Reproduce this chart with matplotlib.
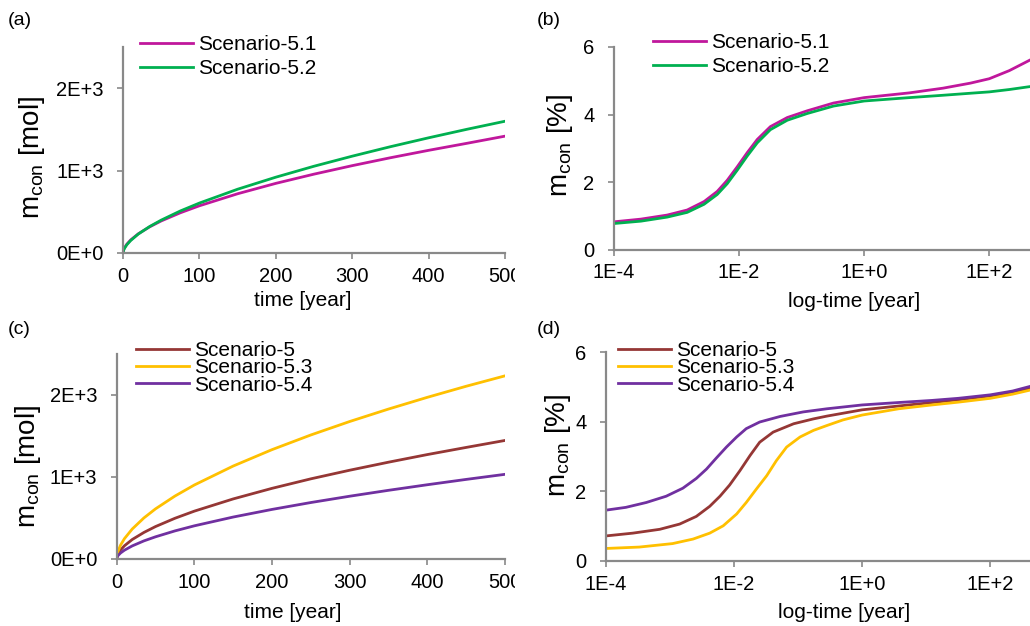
import numpy as np
import matplotlib
matplotlib.use("Agg")
import matplotlib.pyplot as plt
from matplotlib.transforms import Bbox, TransformedBbox

plt.rcParams['font.family'] = ['Liberation Sans', 'DejaVu Sans']
plt.rcParams['mathtext.fontset'] = 'custom'
plt.rcParams['mathtext.rm'] = 'Liberation Sans'
plt.rcParams['mathtext.it'] = 'Liberation Sans'

# (a) / (c): linear time, cumulative mass [mol]
t_lin = [0, 1, 2, 5, 10, 20, 35, 50, 75, 100, 150, 200, 250, 300, 350, 400, 450, 500]
a_s51 = [0, 43, 64, 107, 158, 233, 318, 389, 488, 573, 719, 845, 957, 1060, 1156, 1246, 1331, 1418]
a_s52 = [0, 38, 57, 100, 151, 230, 322, 399, 510, 606, 774, 920, 1053, 1175, 1290, 1398, 1501, 1599]
c_s5 = [0, 43, 64, 107, 158, 234, 320, 392, 493, 580, 729, 858, 974, 1079, 1177, 1270, 1357, 1442]
c_s53 = [0, 67, 98, 166, 245, 362, 497, 608, 764, 899, 1130, 1330, 1509, 1673, 1825, 1968, 2103, 2230]
c_s54 = [0, 27, 41, 70, 104, 156, 217, 267, 339, 401, 508, 601, 685, 762, 834, 902, 967, 1029]

# (b): log time (exponents of 10), percentage
b_logt = [-4.0, -3.57, -3.15, -2.83, -2.56, -2.35, -2.19, -2.03, -1.87, -1.71, -1.5,
          -1.23, -0.91, -0.49, 0.0, 0.72, 1.26, 1.7, 2.0, 2.32, 2.7]
b_s51 = [0.82, 0.90, 1.02, 1.17, 1.42, 1.72, 2.05, 2.45, 2.87, 3.26, 3.64,
         3.91, 4.11, 4.34, 4.50, 4.64, 4.78, 4.93, 5.06, 5.30, 5.66]
b_s52 = [0.77, 0.84, 0.96, 1.10, 1.34, 1.63, 1.95, 2.35, 2.77, 3.16, 3.55,
         3.83, 4.03, 4.25, 4.40, 4.50, 4.57, 4.63, 4.67, 4.74, 4.84]

# (d): log time (exponents of 10), percentage
d_logt_s5 = [-4.0, -3.58, -3.16, -2.85, -2.59, -2.38, -2.22, -2.07, -1.91, -1.75, -1.6,
             -1.39, -1.07, -0.76, -0.55, 0.0, 0.57, 1.09, 1.5, 2.0, 2.35, 2.7]
d_s5 = [0.72, 0.80, 0.91, 1.06, 1.28, 1.57, 1.86, 2.18, 2.59, 3.03, 3.41,
        3.70, 3.94, 4.08, 4.16, 4.34, 4.45, 4.55, 4.63, 4.74, 4.84, 4.98]
d_logt_s53 = [-4.0, -3.48, -2.96, -2.64, -2.38, -2.17, -1.96, -1.81, -1.65, -1.49, -1.34,
              -1.18, -0.97, -0.76, -0.55, -0.3, 0.0, 0.57, 1.09, 1.5, 2.0, 2.35, 2.7]
d_s53 = [0.36, 0.40, 0.50, 0.63, 0.80, 1.01, 1.35, 1.68, 2.07, 2.45, 2.88,
         3.27, 3.56, 3.75, 3.89, 4.05, 4.19, 4.37, 4.48, 4.56, 4.67, 4.79, 4.94]
d_logt_s54 = [-4.0, -3.69, -3.37, -3.06, -2.8, -2.59, -2.43, -2.28, -2.12, -1.96, -1.81,
              -1.6, -1.28, -0.92, -0.55, 0.0, 0.57, 1.09, 1.5, 2.0, 2.35, 2.7]
d_s54 = [1.46, 1.54, 1.68, 1.86, 2.09, 2.37, 2.64, 2.95, 3.27, 3.56, 3.80,
         3.99, 4.15, 4.28, 4.37, 4.48, 4.55, 4.61, 4.67, 4.77, 4.88, 5.05]

MAGENTA = '#C0179C'
GREEN = '#00B050'
BROWN = '#953735'
GOLD = '#FFC000'
PURPLE = '#7030A0'
AXCOL = '#898989'
LW = 2.0

W, H = 1030, 626
fig = plt.figure(figsize=(W / 100, H / 100), dpi=100)


def px_axes(left, right, top, bottom):
    return fig.add_axes([left / W, 1 - bottom / H, (right - left) / W, (bottom - top) / H])


def style(ax):
    for s in ('top', 'right'):
        ax.spines[s].set_visible(False)
    for s in ('left', 'bottom'):
        ax.spines[s].set_color(AXCOL)
        ax.spines[s].set_linewidth(1.6)
    ax.tick_params(axis='both', which='major', direction='out', length=4,
                   width=1.2, color=AXCOL, labelsize=14.5, labelcolor='black')
    ax.tick_params(axis='y', pad=10)
    ax.tick_params(axis='x', pad=6)
    ax.tick_params(which='minor', length=0)
    ax.patch.set_visible(False)


def legend(ax, x, y, spacing):
    leg = ax.legend(loc='upper left', bbox_to_anchor=(x / W, 1 - y / H),
                    bbox_transform=fig.transFigure, frameon=False, fontsize=15,
                    handlelength=2.55, handletextpad=0.25, labelspacing=spacing,
                    borderpad=0, borderaxespad=0)
    return leg


ax_a = px_axes(123, 505, 47, 253)
ax_b = px_axes(614, 1033, 47, 249.5)
ax_c = px_axes(116.7, 505, 353.7, 558.7)
ax_d = px_axes(606, 1035, 352, 561)

# (a)
ax_a.plot(t_lin, a_s51, color=MAGENTA, lw=LW, label='Scenario-5.1')
ax_a.plot(t_lin, a_s52, color=GREEN, lw=LW, label='Scenario-5.2')
# (c)
ax_c.plot(t_lin, c_s5, color=BROWN, lw=LW, label='Scenario-5')
ax_c.plot(t_lin, c_s53, color=GOLD, lw=LW, label='Scenario-5.3')
ax_c.plot(t_lin, c_s54, color=PURPLE, lw=LW, label='Scenario-5.4')

for ax in (ax_a, ax_c):
    style(ax)
    ax.set_xlim(0, 500)
    ax.set_ylim(0, 2500)
    ax.set_xticks([0, 100, 200, 300, 400, 500])
    ax.set_yticks([0, 1000, 2000], ['0E+0', '1E+3', '2E+3'])
    ax.set_ylabel(r'$\mathregular{m_{con}}$ [mol]', fontsize=20)
    ax.set_xlabel('time [year]', fontsize=15, va='top')

# (b)
ax_b.plot(np.power(10.0, b_logt), b_s51, color=MAGENTA, lw=LW, label='Scenario-5.1')
ax_b.plot(np.power(10.0, b_logt), b_s52, color=GREEN, lw=LW, label='Scenario-5.2')
# (d)
ax_d.plot(np.power(10.0, d_logt_s5), d_s5, color=BROWN, lw=LW, label='Scenario-5')
ax_d.plot(np.power(10.0, d_logt_s53), d_s53, color=GOLD, lw=LW, label='Scenario-5.3')
ax_d.plot(np.power(10.0, d_logt_s54), d_s54, color=PURPLE, lw=LW, label='Scenario-5.4')

for ax in (ax_b, ax_d):
    style(ax)
    ax.set_xscale('log')
    ax.set_xlim(1e-4, 500)
    ax.set_ylim(0, 6)
    ax.set_xticks([1e-4, 1e-2, 1, 100], ['1E-4', '1E-2', '1E+0', '1E+2'])
    ax.minorticks_off()
    ax.set_yticks([0, 2, 4, 6])
    ax.set_ylabel(r'$\mathregular{m_{con}}$ [%]', fontsize=20)
    ax.set_xlabel('log-time [year]', fontsize=15, va='top')

ax_a.yaxis.set_label_coords(-0.199, 0.466)
ax_b.yaxis.set_label_coords(-0.093, 0.516)
ax_c.yaxis.set_label_coords(-0.19, 0.45)
ax_d.yaxis.set_label_coords(-0.077, 0.553)
ax_a.xaxis.set_label_coords(0.47, -0.184)
ax_b.xaxis.set_label_coords(0.572, -0.21)
ax_c.xaxis.set_label_coords(0.453, -0.216)
ax_d.xaxis.set_label_coords(0.555, -0.2)

legend(ax_a, 140, 35, 0.25)
legend(ax_b, 653, 33, 0.25)
legend(ax_c, 136, 341, -0.08)
legend(ax_d, 618, 341, -0.08)

for lbl, x, y in (('(a)', 8, 12), ('(b)', 537, 12), ('(c)', 8, 321), ('(d)', 537, 321)):
    fig.text(x / W, 1 - y / H, lbl, fontsize=14, ha='left', va='top')

# left panels were cropped at their own edge
fig.canvas.draw()
left_half = TransformedBbox(Bbox([[0, 0], [515 / W, 1]]), fig.transFigure)
for ax in (ax_a, ax_c):
    for tick in ax.xaxis.get_major_ticks():
        tick.label1.set_clip_box(left_half)
        tick.label1.set_clip_on(True)

fig.savefig('out.png', dpi=100)
